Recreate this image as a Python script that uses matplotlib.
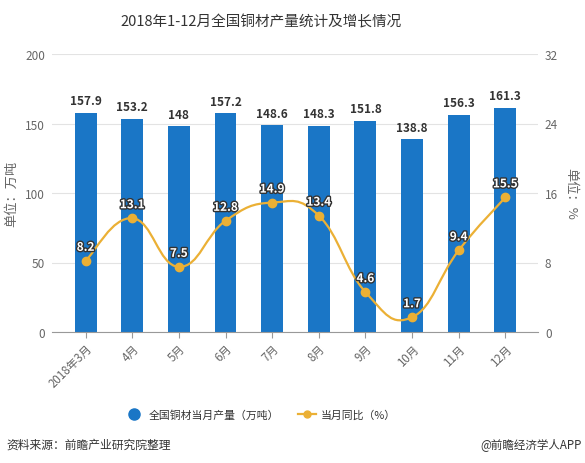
import matplotlib
matplotlib.use("Agg")
import matplotlib.pyplot as plt
import matplotlib.patheffects as pe
from matplotlib.path import Path
from matplotlib.patches import PathPatch
from matplotlib.lines import Line2D

plt.rcParams['font.family'] = ['Noto Sans CJK SC', 'DejaVu Sans']

# data
months = ['2018年3月', '4月', '5月', '6月', '7月', '8月', '9月', '10月', '11月', '12月']
output = [157.9, 153.2, 148, 157.2, 148.6, 148.3, 151.8, 138.8, 156.3, 161.3]
growth = [8.2, 13.1, 7.5, 12.8, 14.9, 13.4, 4.6, 1.7, 9.4, 15.5]

bar_color = '#1a76c6'
line_color = '#ebb035'
text_gray = '#666666'

fig = plt.figure(figsize=(5.85, 4.64), dpi=100)
ax = fig.add_axes([52/585, 1 - 333/464, 486/585, 278/464])
ax2 = ax.twinx()

x = list(range(len(months)))
ax.bar(x, output, width=0.47, color=bar_color, zorder=2)
for xi, v in zip(x, output):
    ax.annotate('{:g}'.format(v), (xi, v), xytext=(0, 4), textcoords='offset points',
                ha='center', va='bottom', fontsize=8.5, fontweight='bold', color='#333333')

ax.set_ylim(0, 200)
ax.set_yticks([0, 50, 100, 150, 200])
ax.set_xlim(-0.72, 9.7)
ax.set_xticks(x)
ax.set_xticklabels(months, rotation=45, ha='right', rotation_mode='anchor')
ax.grid(axis='y', color='#e3e3e3', linewidth=0.8, zorder=0)
ax.set_axisbelow(True)
for s in ['top', 'right', 'left']:
    ax.spines[s].set_visible(False)
ax.spines['bottom'].set_color('#999999')
ax.tick_params(axis='y', length=0, labelsize=8.5, colors=text_gray, pad=5)
ax.tick_params(axis='x', length=4, color='#999999', labelsize=8.3, labelcolor=text_gray, pad=3)
ax.set_ylabel('单位：万吨', fontsize=9.5, color=text_gray, labelpad=5)

# smooth line through the points (cubic bezier, catmull-rom style)
ax2.set_ylim(0, 32)
ax2.set_yticks([0, 8, 16, 24, 32])
for s in ax2.spines.values():
    s.set_visible(False)
ax2.tick_params(axis='y', length=0, labelsize=8.5, colors=text_gray, pad=5)
ax2.set_ylabel('单位：%', fontsize=9.5, color=text_gray, rotation=-90, labelpad=14)

k = 0.22
verts = [(x[0], growth[0])]
codes = [Path.MOVETO]
n = len(x)
for i in range(n - 1):
    p0 = (x[max(i - 1, 0)], growth[max(i - 1, 0)])
    p1 = (x[i], growth[i])
    p2 = (x[i + 1], growth[i + 1])
    p3 = (x[min(i + 2, n - 1)], growth[min(i + 2, n - 1)])
    c1 = (p1[0] + k * (p2[0] - p0[0]), p1[1] + k * (p2[1] - p0[1]))
    c2 = (p2[0] - k * (p3[0] - p1[0]), p2[1] - k * (p3[1] - p1[1]))
    verts += [c1, c2, p2]
    codes += [Path.CURVE4] * 3
ax2.add_patch(PathPatch(Path(verts, codes), facecolor='none', edgecolor=line_color,
                        linewidth=1.6, zorder=3))
ax2.plot(x, growth, 'o', color=line_color, markersize=6, zorder=4)
for xi, v in zip(x, growth):
    ax2.annotate('{:g}'.format(v), (xi, v), xytext=(0, 5), textcoords='offset points',
                 ha='center', va='bottom', fontsize=8.5, fontweight='bold', color='white',
                 path_effects=[pe.withStroke(linewidth=2, foreground='#333333')], zorder=5)

fig.text(261/585, 1 - 22/464, '2018年1-12月全国铜材产量统计及增长情况', ha='center', va='center',
         fontsize=10.5, color='#333333')

handles = [Line2D([], [], marker='o', linestyle='none', color=bar_color, markersize=8),
           Line2D([], [], marker='o', color=line_color, markersize=5, linewidth=1.6)]
fig.legend(handles, ['全国铜材当月产量（万吨）', '当月同比（%）'], loc='center',
           bbox_to_anchor=(261/585, 1 - 416/464), ncol=2, frameon=False, fontsize=7.8,
           handlelength=1.6, columnspacing=1.8, handletextpad=0.5, labelcolor='#333333')

fig.text(6/585, 1 - 445/464, '资料来源：前瞻产业研究院整理', ha='left', va='center',
         fontsize=8.5, style='italic', color='#333333')
fig.text(582/585, 1 - 445/464, '@前瞻经济学人APP', ha='right', va='center',
         fontsize=8.3, color='#333333')

fig.savefig('out.png', dpi=100)
